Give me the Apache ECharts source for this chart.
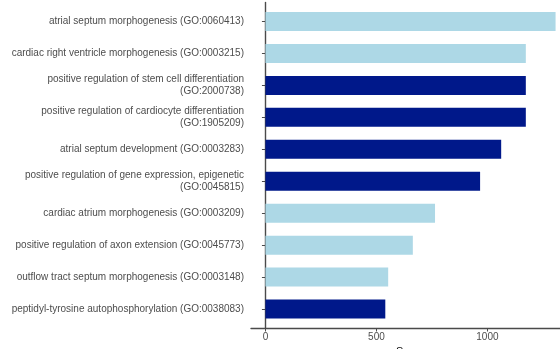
<!DOCTYPE html>
<html>
<head>
<meta charset="utf-8">
<script src="https://cdn.jsdelivr.net/npm/echarts@6/dist/echarts.min.js"></script>
<style>
  html, body { margin: 0; padding: 0; background: #fff; }
  #chart { width: 560px; height: 349px; }
</style>
</head>
<body>
<div id="chart"></div>
<script>
// GO terms, listed top to bottom
const terms = [
  'atrial septum morphogenesis (GO:0060413)',
  'cardiac right ventricle morphogenesis (GO:0003215)',
  'positive regulation of stem cell differentiation\n(GO:2000738)',
  'positive regulation of cardiocyte differentiation\n(GO:1905209)',
  'atrial septum development (GO:0003283)',
  'positive regulation of gene expression, epigenetic\n(GO:0045815)',
  'cardiac atrium morphogenesis (GO:0003209)',
  'positive regulation of axon extension (GO:0045773)',
  'outflow tract septum morphogenesis (GO:0003148)',
  'peptidyl-tyrosine autophosphorylation (GO:0038083)'
];
const scores = [1307, 1173, 1173, 1173, 1062, 967, 764, 664, 553, 540];
// term group: 'a' = light bars, 'b' = dark bars
const groups = ['a', 'a', 'b', 'b', 'b', 'b', 'a', 'a', 'a', 'b'];
const xTicks = [0, 500, 1000];
const xTitle = 'Score';

const groupColor = { a: '#ADD8E6', b: '#00188A' };
const textColor = '#4d4d4d';
const lineColor = '#4a4a4a';
const font = 'Liberation Sans, Arial, sans-serif';
const xMin = -65, xMax = 1372;

const chart = echarts.init(document.getElementById('chart'));
chart.setOption({
  animation: false,
  grid: [
    { left: 251, right: -10, top: 5.5, bottom: 24, outerBoundsMode: 'none', containLabel: false },
    { left: 251, right: -10, top: 2.4, bottom: 21, outerBoundsMode: 'none', containLabel: false }
  ],
  // axis title sits under the centre of the (partly off-canvas) plot panel
  graphic: [{
    type: 'text', left: 396, top: 346,
    style: { text: xTitle, fontSize: 11, fontFamily: font, fill: '#000' }
  }],
  xAxis: [
    { gridIndex: 0, type: 'value', min: xMin, max: xMax, show: false, splitLine: { show: false } },
    {
      gridIndex: 1, type: 'value', min: xMin, max: xMax,
      axisLine: { show: true, lineStyle: { color: lineColor, width: 1.4 } },
      axisTick: { show: true, length: 3.5, customValues: xTicks, lineStyle: { color: lineColor } },
      axisLabel: { customValues: xTicks, margin: 4, color: textColor, fontSize: 10, fontFamily: font,
                   formatter: v => String(v) },
      splitLine: { show: false }
    }
  ],
  yAxis: [
    {
      gridIndex: 0, type: 'category', data: terms, inverse: true,
      axisLine: { show: false },
      axisTick: { show: true, alignWithLabel: true, length: 3.5, inside: false, lineStyle: { color: lineColor } },
      axisLabel: { margin: 7, color: textColor, fontSize: 10, lineHeight: 12.5, align: 'right', fontFamily: font }
    },
    {
      gridIndex: 1, type: 'value', min: 0, max: 1,
      axisLine: { show: true, lineStyle: { color: lineColor, width: 1.4 } },
      axisTick: { show: false }, axisLabel: { show: false }, splitLine: { show: false }
    }
  ],
  series: [{
    type: 'bar',
    xAxisIndex: 0, yAxisIndex: 0,
    data: scores,
    barWidth: 19,
    itemStyle: { color: p => groupColor[groups[p.dataIndex]] }
  }]
});
</script>
</body>
</html>
